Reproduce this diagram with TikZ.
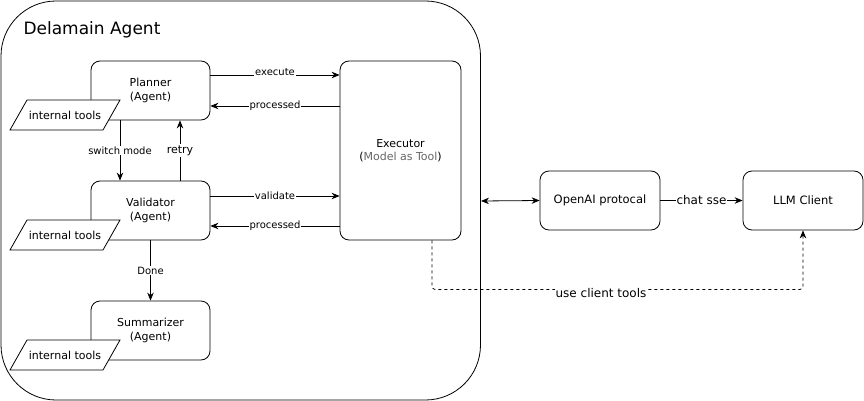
\documentclass[tikz,border=0pt]{standalone}
\usepackage{fontspec}
\setmainfont{DejaVu Sans}
\usetikzlibrary{arrows.meta,calc}
\definecolor{subgray}{HTML}{666666}
\begin{document}
\begin{tikzpicture}[x=1pt,y=-1pt,
  font=\fontsize{11}{13.5}\selectfont,
  box/.style={draw, line width=0.8pt, rounded corners=9pt, align=center, fill=white},
  agent/.style={box, minimum width=119pt, minimum height=59pt},
  para/.style={draw, line width=0.8pt, fill=white},
  arr/.style={line width=0.8pt, -{Stealth[length=8pt,width=6.5pt]}},
  darr/.style={line width=0.8pt, {Stealth[length=8pt,width=6.5pt]}-{Stealth[length=8pt,width=6.5pt]}},
  lbl/.style={fill=white, inner sep=1pt, font=\fontsize{10}{12}\selectfont}]
\useasboundingbox (0,0) rectangle (864,401);
% container
\draw[line width=0.8pt, rounded corners=55pt] (1,1) rectangle (480.5,400);
\node[anchor=west, font=\fontsize{17}{20}\selectfont] (title) at (20,30) {Delamain Agent};
% agents
\node[agent] (planner) at (150.5,90.5) {Planner\\(Agent)};
\node[agent] (validator) at (150.5,210.5) {Validator\\(Agent)};
\node[agent] (summ) at (150.5,330.5) {Summarizer\\(Agent)};
% internal tools parallelograms
\foreach \n/\yy in {pt/100, vt/220, st/340}{
  \draw[para] (27,\yy) -- (120,\yy) -- (103,\yy+30) -- (10,\yy+30) -- cycle;
  \node (\n) at (65,\yy+15) {internal tools};
}
% executor
\node[box, minimum width=121pt, minimum height=179pt] (exec) at (400.5,150.5) {Executor\\(\textcolor{subgray}{Model as Tool})};
% right side
\node[box, minimum width=120pt, minimum height=59pt, font=\fontsize{11.5}{14}\selectfont] (openai) at (600,200.5) {OpenAI protocal};
\node[box, minimum width=120pt, minimum height=59pt, font=\fontsize{11.5}{14}\selectfont] (llm) at (803,200.5) {LLM Client};
% helper coordinates
\coordinate (y75) at (0,75);
\coordinate (y106) at (0,106);
\coordinate (y196) at (0,196);
\coordinate (y226) at (0,226);
\coordinate (x120) at (120,0);
\coordinate (x180) at (180,0);
\coordinate (edge) at (481,201);
% planner <-> executor
\draw[arr] (planner.east |- y75) -- (exec.west |- y75) node[midway, lbl, yshift=3pt] {execute};
\draw[arr] (exec.west |- y106) -- (planner.east |- y106) node[midway, lbl] {processed};
\draw[arr] (validator.east |- y196) -- (exec.west |- y196) node[midway, lbl] {validate};
\draw[arr] (exec.west |- y226) -- (validator.east |- y226) node[midway, lbl] {processed};
% planner <-> validator
\draw[arr] (planner.south -| x120) -- (validator.north -| x120) node[midway, lbl] {switch mode};
\draw[arr] (validator.north -| x180) -- (planner.south -| x180) node[midway, lbl, font=\fontsize{11}{13}\selectfont] {retry};
\draw[arr] (validator.south) -- (summ.north) node[midway, lbl] {Done};
% right side connections
\draw[darr] (edge) -- (openai.west);
\draw[arr] (openai.east) -- (llm.west) node[midway, lbl, font=\fontsize{12}{14}\selectfont] {chat sse};
\coordinate (dstart) at ($(exec.south)+(31.5,0)$);
\draw[arr, dashed, rounded corners=3pt] (dstart) -- ++(0,49) coordinate (dcorner) -| (llm.south);
\node[lbl, font=\fontsize{12}{14}\selectfont] (uct) at (601,293) {use client tools};
\end{tikzpicture}
\end{document}
